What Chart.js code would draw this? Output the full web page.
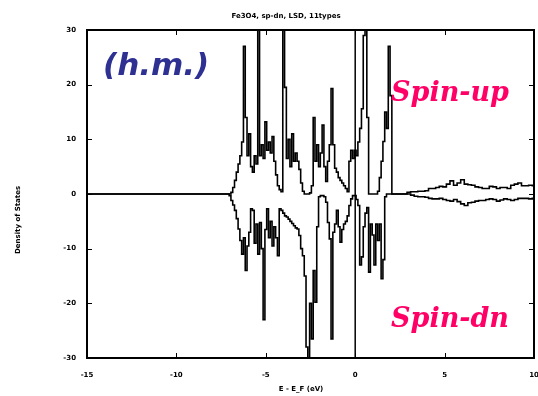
<!DOCTYPE html>
<html>
<head>
<meta charset="utf-8">
<script src="https://cdn.jsdelivr.net/npm/chart.js@4.4.1/dist/chart.umd.min.js"></script>
<style>
  html, body { margin: 0; background: #fff; }
</style>
</head>
<body>
<canvas id="dosChart" width="538" height="396"></canvas>
<script>
// ---- data (states/eV) ----
const energyRange = [-15, 10];
const dosRange = [-30, 30];
const fermiLevel = 0;

// main band: E = -7.5 .. 2.3 eV, every 0.1 eV
const mainStart = -7.5, mainStep = 0.1;
const spinUpMain = [
  0, 0, 0, 0, 0, 0,
  0.3, 1.2, 2.5, 4.0, 5.5, 7.0, 9.5, 27, 14, 7,
  11, 5, 4, 7, 5.5, 32, 7, 9, 6.5, 13.2,
  8, 9.5, 7.5, 10.5, 6, 3.5, 1.5, 0.8, 0.4, 32,
  19.5, 6.5, 10, 5, 11, 6, 7.5, 6, 4.5, 2,
  0.5, 0, 0, 0, 0.2, 1.5, 14, 6, 9, 5,
  7.5, 12.6, 5, 2.3, 6, 9, 19.3, 9, 4.7, 4,
  3, 2.5, 2, 1.5, 1, 0.4, 6, 8, 6.5, 8,
  7, 9.5, 12, 15.6, 29, 32, 14, 0, 0, 0,
  0, 0, 0.5, 3, 6, 9.6, 15, 12, 27, 18,
  0, 0, 0
];
const spinDnMain = [
  0, 0, 0, 0, 0,
  -0.3, -1.2, -2.0, -3.0, -4.5, -6.4, -8.5, -11, -8, -14,
  -9.5, -7, -2.7, -3, -9, -5.5, -11, -5.2, -10, -23,
  -6.5, -2.7, -8, -5, -9.5, -6, -8, -11.3, -2.7, -3,
  -3.5, -4, -4.2, -4.6, -5, -5.4, -5.8, -6.2, -6.4, -7.6,
  -10, -11.3, -15, -28, -31, -20, -26.5, -14, -19.8, -6,
  -0.5, -0.3, -0.3, -0.5, -1.5, -5.2, -8.2, -26.5, -7, -5.5,
  -3, -6, -8.8, -6.5, -5.5, -5, -4, -2.1, -0.9, -0.3,
  -0.3, -1, -2.1, -13, -11.5, -6, -3.5, -2.5, -14.3, -5.5,
  -7.5, -13, -5.5, -8.5, -5.5, -15.5, -12, -0.5, 0, 0,
  0, 0, 0, 0
];

// conduction tail: E = 2.4 .. 10 eV, every 0.2 eV
const tailStart = 2.4, tailStep = 0.2;
const spinUpTail = [
  0, 0, 0, 0.3, 0.4, 0.4, 0.5, 0.5, 0.6, 1.0,
  1.0, 1.2, 1.4, 1.3, 1.8, 2.4, 1.6, 2.0, 2.6, 1.8,
  1.7, 1.6, 1.3, 1.2, 1.0, 1.0, 1.4, 1.3, 1.0, 1.2,
  1.2, 1.0, 1.6, 1.8, 2.0, 1.5, 1.5, 1.6, 1.5
];
const spinDnTail = [
  0, 0, 0, 0, -0.2, -0.4, -0.5, -0.5, -0.6, -0.8,
  -0.9, -0.9, -0.8, -1.0, -1.2, -1.3, -1.0, -1.4, -1.8, -2.1,
  -1.6, -1.5, -1.3, -1.2, -1.2, -1.0, -0.9, -1.0, -1.3, -1.1,
  -0.9, -1.0, -1.2, -1.0, -0.8, -0.8, -0.8, -0.9, -0.8
];

function toPoints(mainVals, tailVals) {
  const pts = [{ x: energyRange[0], y: 0 }];
  mainVals.forEach((v, i) => pts.push({ x: +(mainStart + i * mainStep).toFixed(2), y: v }));
  tailVals.forEach((v, i) => pts.push({ x: +(tailStart + i * tailStep).toFixed(2), y: v }));
  return pts;
}

// frame, inward ticks, titles and the coloured labels
const decorations = {
  id: "decorations",
  afterDraw(chart) {
    const { ctx, chartArea: a, scales } = chart;
    ctx.save();
    ctx.strokeStyle = "#000";
    ctx.lineWidth = 2;
    ctx.strokeRect(a.left, a.top, a.right - a.left, a.bottom - a.top);

    ctx.lineWidth = 1;
    ctx.beginPath();
    scales.x.ticks.forEach(t => {
      const px = Math.round(scales.x.getPixelForValue(t.value)) + 0.5;
      ctx.moveTo(px, a.bottom); ctx.lineTo(px, a.bottom - 5);
      ctx.moveTo(px, a.top); ctx.lineTo(px, a.top + 5);
    });
    scales.y.ticks.forEach(t => {
      const py = Math.round(scales.y.getPixelForValue(t.value)) + 0.5;
      ctx.moveTo(a.left, py); ctx.lineTo(a.left + 5, py);
      ctx.moveTo(a.right, py); ctx.lineTo(a.right - 5, py);
    });
    ctx.stroke();

    ctx.fillStyle = "#000";
    ctx.font = "bold 7px 'DejaVu Sans'";
    ctx.textAlign = "center";
    ctx.textBaseline = "middle";
    ctx.fillText("Fe3O4, sp-dn, LSD, 11types", 286, 16);
    ctx.fillText("E - E_F (eV)", 301, 389);
    ctx.save();
    ctx.translate(18, 220);
    ctx.rotate(-Math.PI / 2);
    ctx.fillText("Density of States", 0, 0);
    ctx.restore();

    ctx.textAlign = "left";
    ctx.textBaseline = "alphabetic";
    ctx.fillStyle = "#2e3192";
    ctx.font = "italic bold 31px 'DejaVu Sans'";
    ctx.fillText("(h.m.)", 103, 75);
    ctx.fillStyle = "#ff0066";
    ctx.font = "italic bold 27px 'DejaVu Serif'";
    ctx.fillText("Spin-up", 391, 101);
    ctx.fillText("Spin-dn", 391, 327);
    ctx.restore();
  }
};

const tickFont = { family: "DejaVu Sans", size: 7, weight: "bold" };

new Chart(document.getElementById("dosChart"), {
  type: "line",
  data: {
    datasets: [
      {
        label: "spin up",
        data: toPoints(spinUpMain, spinUpTail),
        borderColor: "#000",
        borderWidth: 1.6,
        pointRadius: 0,
        stepped: "middle",
        fill: false
      },
      {
        label: "spin down",
        data: toPoints(spinDnMain, spinDnTail),
        borderColor: "#000",
        borderWidth: 1.6,
        pointRadius: 0,
        stepped: "middle",
        fill: false
      },
      {
        label: "E_F",
        data: [{ x: fermiLevel, y: dosRange[0] }, { x: fermiLevel, y: dosRange[1] }],
        borderColor: "#000",
        borderWidth: 1.5,
        pointRadius: 0
      }
    ]
  },
  options: {
    responsive: false,
    animation: false,
    devicePixelRatio: 1,
    layout: { padding: { top: 30, right: 4, left: 0, bottom: 0 } },
    plugins: {
      legend: { display: false },
      tooltip: { enabled: false }
    },
    scales: {
      x: {
        type: "linear",
        min: energyRange[0],
        max: energyRange[1],
        ticks: { stepSize: 5, color: "#000", font: tickFont, padding: 13, maxRotation: 0 },
        grid: { display: false, drawTicks: false },
        border: { display: false },
        afterFit(scale) {
          scale.height = 38;
          scale.paddingLeft = 0;
          scale.paddingRight = 0;
        }
      },
      y: {
        min: dosRange[0],
        max: dosRange[1],
        ticks: { stepSize: 10, color: "#000", font: tickFont, padding: 11 },
        grid: { display: false, drawTicks: false },
        border: { display: false },
        afterFit(scale) {
          scale.width = 87;
          scale.paddingTop = 0;
          scale.paddingBottom = 0;
        }
      }
    }
  },
  plugins: [decorations]
});
</script>
</body>
</html>
